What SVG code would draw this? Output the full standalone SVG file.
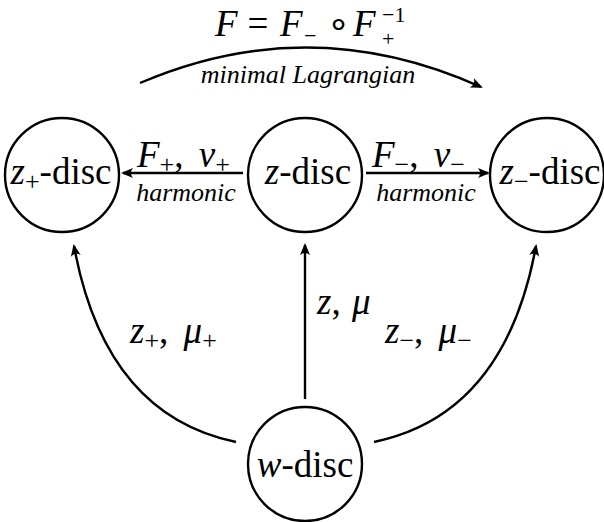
<svg xmlns="http://www.w3.org/2000/svg" width="604" height="522" viewBox="0 0 604 522">
<style>
.n{fill:none;stroke:#000;stroke-width:2.4}
.c{fill:none;stroke:#000;stroke-width:2.4}
.t{font-family:"Liberation Serif","Times New Roman",serif;font-size:37px;fill:#000}
.i{font-style:italic}
.sm{font-size:26px}
.xs{font-size:22px}
</style>
<defs>
<marker id="ah" viewBox="-12 -7 15 14" refX="0" refY="0" markerWidth="15" markerHeight="14" markerUnits="userSpaceOnUse" orient="auto">
<path d="M2,0 L-10,-5 Q-6,0 -10,5 Z" fill="#000"/>
</marker>
</defs>
<rect width="604" height="522" fill="#fff"/>
<g id="connectors">
<path class="c" d="M140,83 Q310,10 481,87" marker-end="url(#ah)"/>
<line class="c" x1="243" y1="173" x2="123" y2="173" marker-end="url(#ah)"/>
<line class="c" x1="366" y1="173" x2="488" y2="173" marker-end="url(#ah)"/>
<line class="c" x1="305" y1="399" x2="305" y2="245" marker-end="url(#ah)"/>
<path class="c" d="M236,442 Q105,415 74,246" marker-end="url(#ah)"/>
<path class="c" d="M374,442 Q505,415 536,246" marker-end="url(#ah)"/>
</g>
<g id="labels">
<text class="t i" x="215" y="36">F</text>
<text class="t" x="258" y="36" text-anchor="middle">=</text>
<text class="t i" x="280" y="36">F</text>
<text class="t xs" x="304" y="43">−</text>
<text class="t" x="338" y="36" text-anchor="middle">∘</text>
<text class="t i" x="353" y="36">F</text>
<text class="t xs" x="382" y="22">−1</text>
<text class="t xs" x="382" y="46">+</text>
<text class="t i sm" x="308" y="83" text-anchor="middle">minimal Lagrangian</text>
<text class="t" x="137" y="167"><tspan class="i">F</tspan><tspan class="sm" dy="6">+</tspan><tspan dy="-6">, </tspan><tspan class="i" dx="6">ν</tspan><tspan class="sm" dy="6">+</tspan></text>
<text class="t i sm" x="186" y="201" text-anchor="middle">harmonic</text>
<text class="t" x="372" y="167"><tspan class="i">F</tspan><tspan class="sm" dy="6">−</tspan><tspan dy="-6">, </tspan><tspan class="i" dx="6">ν</tspan><tspan class="sm" dy="6">−</tspan></text>
<text class="t i sm" x="426" y="201" text-anchor="middle">harmonic</text>
<text class="t" x="317" y="314"><tspan class="i">z</tspan>, <tspan class="i" dx="2">μ</tspan></text>
<text class="t" x="130" y="343"><tspan class="i">z</tspan><tspan class="sm" dy="6">+</tspan><tspan dy="-6">, </tspan><tspan class="i" dx="6">μ</tspan><tspan class="sm" dy="6">+</tspan></text>
<text class="t" x="385" y="343"><tspan class="i">z</tspan><tspan class="sm" dy="6">−</tspan><tspan dy="-6">, </tspan><tspan class="i" dx="6">μ</tspan><tspan class="sm" dy="6">−</tspan></text>
</g>
<g id="node-zplus">
<circle class="n" cx="62" cy="175" r="57"/>
<text class="t" x="61" y="184" text-anchor="middle"><tspan class="i">z</tspan><tspan class="sm" dy="6">+</tspan><tspan dy="-6">-disc</tspan></text>
</g>
<g id="node-z">
<circle class="n" cx="305" cy="175" r="57"/>
<text class="t" x="308" y="184" text-anchor="middle"><tspan class="i">z</tspan>-disc</text>
</g>
<g id="node-zminus">
<circle class="n" cx="547" cy="175" r="57"/>
<text class="t" x="550" y="184" text-anchor="middle"><tspan class="i">z</tspan><tspan class="sm" dy="6">−</tspan><tspan dy="-6">-disc</tspan></text>
</g>
<g id="node-w">
<circle class="n" cx="305" cy="464" r="57"/>
<text class="t" x="305" y="477" text-anchor="middle"><tspan class="i">w</tspan>-disc</text>
</g>
</svg>
